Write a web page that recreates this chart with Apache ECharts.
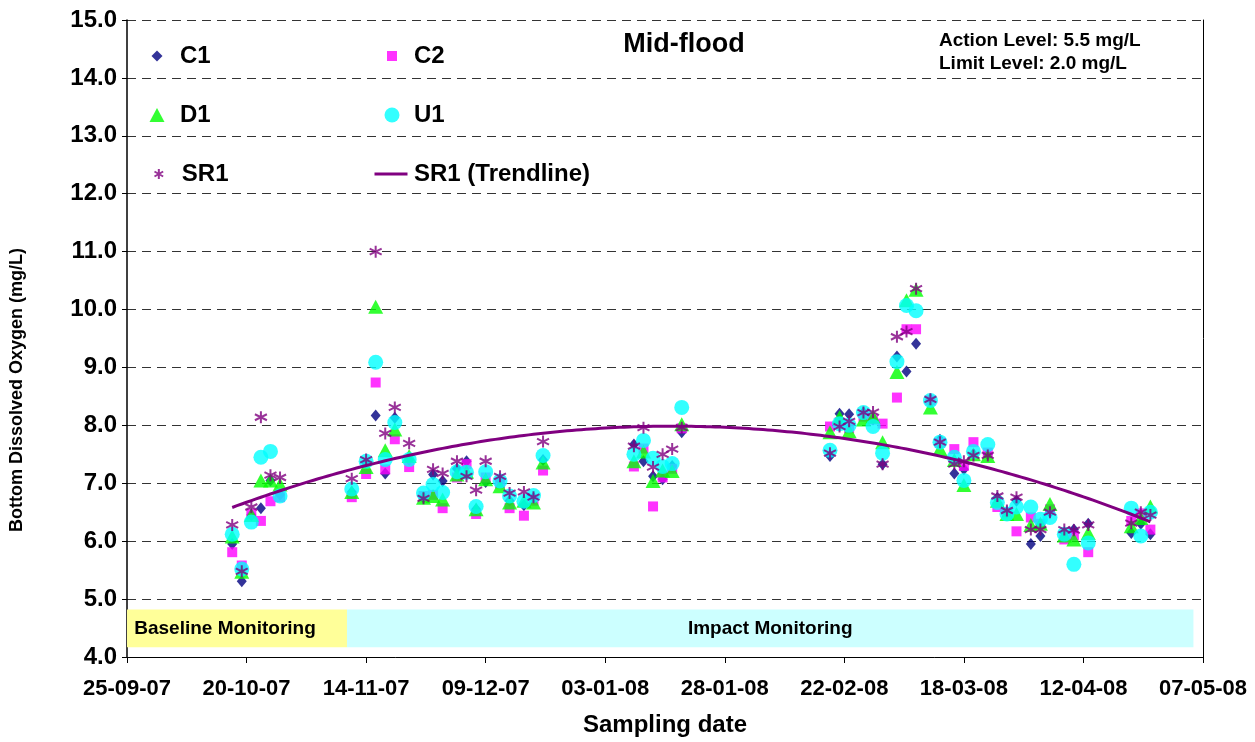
<!DOCTYPE html>
<html>
<head>
<meta charset="utf-8">
<script src="https://cdn.jsdelivr.net/npm/echarts@6/dist/echarts.min.js"></script>
<style>
html,body{margin:0;padding:0;background:#fff;}
#chart{width:1255px;height:742px;}
</style>
</head>
<body>
<div id="chart"></div>
<script>
// ---- data ----
const dates = [
 '2007-10-17','2007-10-19','2007-10-21','2007-10-23','2007-10-25','2007-10-27',
 '2007-11-11','2007-11-14','2007-11-16','2007-11-18','2007-11-20','2007-11-23',
 '2007-11-26','2007-11-28','2007-11-30','2007-12-03','2007-12-05','2007-12-07',
 '2007-12-09','2007-12-12','2007-12-14','2007-12-17','2007-12-19','2007-12-21',
 '2008-01-09','2008-01-11','2008-01-13','2008-01-15','2008-01-17','2008-01-19',
 '2008-02-19','2008-02-21','2008-02-23','2008-02-26','2008-02-28','2008-03-01',
 '2008-03-04','2008-03-06','2008-03-08','2008-03-11','2008-03-13','2008-03-16',
 '2008-03-18','2008-03-20','2008-03-23','2008-03-25','2008-03-27','2008-03-29',
 '2008-04-01','2008-04-03','2008-04-05','2008-04-08','2008-04-10','2008-04-13',
 '2008-04-22','2008-04-24','2008-04-26'
];
const C1 = [5.95,5.31,6.45,6.57,7.05,6.80, 6.85,7.35,8.17,7.17,8.13,7.40, 6.75,7.15,7.04,7.25,7.38,6.55,
 7.02,7.05,6.70,6.62,6.75,7.40, 7.67,7.38,7.12,7.07,7.30,7.88, 7.47,8.20,8.19,8.22,8.10,7.33,
 9.19,8.93,9.41,8.45,7.75,7.17, 7.24,7.50,7.50,6.75,6.50,6.70, 5.95,6.09,6.50,6.15,6.20,6.30, 6.14,6.30,6.12];
const C2 = [5.81,5.58,6.47,6.35,6.69,6.76, 6.76,7.16,8.74,7.24,7.76,7.28, 6.78,6.80,6.57,7.10,7.33,6.47,
 7.10,7.00,6.57,6.44,6.70,7.22, 7.29,7.60,6.60,7.10,7.25,7.95, 7.98,8.05,7.95,8.15,8.10,8.03,
 8.48,9.66,9.66,8.43,7.70,7.59, 7.30,7.71,7.53,6.59,6.50,6.17, 6.41,6.30,6.55,6.03,6.10,5.81, 6.35,6.48,6.20];
const D1 = [6.08,5.47,6.45,7.05,7.05,6.98, 6.85,7.28,10.05,7.57,7.93,7.47, 6.75,6.78,6.72,7.15,7.20,6.55,
 7.07,6.95,6.67,6.70,6.67,7.36, 7.38,7.55,7.04,7.22,7.21,8.02, 7.88,8.14,7.90,8.10,8.15,7.71,
 8.92,10.16,10.34,8.31,7.59,7.40, 6.97,7.50,7.47,6.70,6.47,6.47, 6.28,6.30,6.64,6.10,6.03,6.14, 6.26,6.40,6.60];
const U1 = [6.12,5.52,6.33,7.45,7.55,6.78, 6.90,7.38,9.09,7.41,8.05,7.41, 6.83,6.98,6.84,7.20,7.19,6.60,
 7.20,7.04,6.78,6.69,6.79,7.48, 7.50,7.74,7.43,7.29,7.34,8.31, 7.57,8.03,8.00,8.22,7.98,7.52,
 9.10,10.07,9.98,8.43,7.71,7.45, 7.05,7.55,7.67,6.67,6.47,6.59, 6.59,6.38,6.41,6.12,5.60,5.97, 6.57,6.09,6.50];
const SR1 = [6.28,5.48,6.59,8.14,7.14,7.10, 7.08,7.41,11.00,7.86,8.31,7.69, 6.74,7.24,7.17,7.38,7.12,6.88,
 7.38,7.12,6.83,6.85,6.76,7.72, 7.64,7.96,7.28,7.50,7.59,7.96, 7.52,7.98,8.07,8.22,8.23,7.33,
 9.53,9.62,10.36,8.45,7.71,7.33, 7.38,7.48,7.48,6.78,6.53,6.76, 6.20,6.20,6.50,6.20,6.19,6.28, 6.31,6.50,6.45];
const phaseNames = ['Baseline Monitoring','Impact Monitoring'];
const phaseStart = ['2007-09-25','2007-11-10'];
const phaseEnd   = ['2007-11-10','2008-05-05'];
const xStart = '2007-09-25', xEnd = '2008-05-07', xStepDays = 25;
const yMin = 4, yMax = 15, yStep = 1;
const notes = ['Action Level: 5.5 mg/L','Limit Level: 2.0 mg/L'];

// ---- helpers ----
const DAY = 86400000;
const base = Date.parse(xStart + 'T00:00:00Z');
const dayOf = s => (Date.parse(s + 'T00:00:00Z') - base) / DAY;
const xs = dates.map(dayOf);
const pairs = arr => xs.map((x, i) => [x, arr[i]]);
function fmtDay(v){
  const d = new Date(base + Math.round(v) * DAY);
  const p = n => String(n).padStart(2,'0');
  return p(d.getUTCDate()) + '-' + p(d.getUTCMonth()+1) + '-' + p(d.getUTCFullYear() % 100);
}
// quadratic least-squares trendline of SR1 (as in the original chart)
function quadFit(x, y){
  let S = [0,0,0,0,0], T = [0,0,0];
  for (let i=0;i<x.length;i++){
    let p = 1;
    for (let k=0;k<5;k++){ S[k]+=p; if(k<3) T[k]+=p*y[i]; p*=x[i]; }
  }
  const M = [[S[0],S[1],S[2],T[0]],[S[1],S[2],S[3],T[1]],[S[2],S[3],S[4],T[2]]];
  for (let c=0;c<3;c++){
    for (let r=c+1;r<3;r++){
      const f = M[r][c]/M[c][c];
      for (let k=c;k<4;k++) M[r][k]-=f*M[c][k];
    }
  }
  const a=[0,0,0];
  for (let r=2;r>=0;r--){
    let s=M[r][3];
    for (let k=r+1;k<3;k++) s-=M[r][k]*a[k];
    a[r]=s/M[r][r];
  }
  return a;
}
const co = quadFit(xs, SR1);
const trend = [];
for (let d = xs[0]; d <= xs[xs.length-1]; d += 1) trend.push([d, co[0]+co[1]*d+co[2]*d*d]);

const FONT = '"Liberation Sans", Arial, sans-serif';
const starPath = 'path://M5,0L5,10M0.67,2.5L9.33,7.5M0.67,7.5L9.33,2.5';

const chart = echarts.init(document.getElementById('chart'), null, {renderer:'canvas'});
// one legend block per entry: icon centre x, text start x, row centre y
function leg(name, iconCx, textX, cy, w, h, icon){
  const left = iconCx - w/2;
  const pad = textX - (left + w + 5);
  const d = icon ? {name:name, icon:icon} : name;
  return {show:true, data:[d], left:left, top:cy - 13, orient:'horizontal', padding:0,
    itemWidth:w, itemHeight:h, selectedMode:false, symbolKeepAspect:true,
    textStyle:{fontFamily:FONT, fontWeight:'bold', fontSize:24, color:'#000', lineHeight:26,
      padding:[0,0,0,pad]}};
}
const option = {
  animation:false,
  backgroundColor:'#fff',
  textStyle:{fontFamily:FONT},
  title:[
    {text:'Mid-flood', left:684, top:31, textAlign:'center', padding:0,
     textStyle:{fontFamily:FONT, fontWeight:'bold', fontSize:27, color:'#000'}},
    {text:notes.join('\n'), left:939, top:29, padding:0,
     textStyle:{fontFamily:FONT, fontWeight:'bold', fontSize:19, color:'#000', lineHeight:23}}
  ],
  legend:[
    leg('C1',157,180,56,11,11), leg('C2',392,414,56,10,10),
    leg('D1',157,180,115,15,14), leg('U1',392,414,115,15,15),
    leg('SR1',157,180,174,10,10), leg('SR1 (Trendline)',391,414,174,33,3,'rect')
  ],
  graphic:[{
    type:'text', x:17, y:390, rotation:Math.PI/2,
    style:{text:'Bottom Dissolved Oxygen (mg/L)', font:'bold 18px ' + FONT, fill:'#000',
      textAlign:'center', textVerticalAlign:'middle'}
  }],
  grid:{left:127, right:52, top:20, bottom:84, containLabel:false},
  xAxis:{
    type:'value', min:0, max:dayOf(xEnd), interval:xStepDays,
    name:'Sampling date', nameLocation:'middle', nameGap:56,
    nameTextStyle:{fontFamily:FONT, fontWeight:'bold', fontSize:24, color:'#000'},
    axisLine:{show:true, onZero:false, lineStyle:{color:'#000', width:1}},
    axisTick:{show:true, length:6, lineStyle:{color:'#000'}},
    axisLabel:{formatter:fmtDay, fontFamily:FONT, fontWeight:'bold', fontSize:22, color:'#000', margin:21},
    splitLine:{show:false}
  },
  yAxis:[{
    type:'value', min:yMin, max:yMax, interval:yStep,
    axisLine:{show:true, lineStyle:{color:'#000', width:1.5}},
    axisTick:{show:true, length:5, lineStyle:{color:'#000'}},
    axisLabel:{formatter:v => v.toFixed(1), fontFamily:FONT, fontWeight:'bold', fontSize:24, color:'#000', margin:10},
    splitLine:{show:true, lineStyle:{color:'#333', width:1, type:[9,6]}}
  },{
    type:'value', min:yMin, max:yMax, interval:yStep, position:'right',
    axisLine:{show:true, lineStyle:{color:'#000', width:1}},
    axisTick:{show:false}, axisLabel:{show:false}, splitLine:{show:false}
  }],
  series:[
    {name:'phases', type:'line', data:[], silent:true, z:1,
     markArea:{silent:true,
       data: phaseNames.map((n,i)=>[
         {name:n, xAxis:dayOf(phaseStart[i]), yAxis:4.17,
          itemStyle:{color: i===0 ? '#FFFF99' : '#CCFFFF'},
          label:{offset: i===0 ? [-12,0] : [0,0]}},
         {xAxis:dayOf(phaseEnd[i]), yAxis:4.82}]),
       label:{show:true, position:'inside', fontFamily:FONT, fontWeight:'bold', fontSize:19, color:'#000'}
     }},
    {name:'C1', type:'scatter', data:pairs(C1), symbol:'diamond', symbolSize:[10,12],
     itemStyle:{color:'#000080'}, z:3},
    {name:'C2', type:'scatter', data:pairs(C2), symbol:'rect', symbolSize:10,
     itemStyle:{color:'#FF00FF'}, z:4},
    {name:'D1', type:'scatter', data:pairs(D1), symbol:'triangle', symbolSize:[15,14],
     itemStyle:{color:'#00FF00'}, z:5},
    {name:'U1', type:'scatter', data:pairs(U1), symbol:'circle', symbolSize:15,
     itemStyle:{color:'#00FFFF'}, z:6},
    {name:'SR1', type:'scatter', data:pairs(SR1), symbol:starPath, symbolSize:12,
     itemStyle:{color:'none', borderColor:'#800080', borderWidth:2}, z:7},
    {name:'SR1 (Trendline)', type:'line', data:trend, symbol:'none', smooth:false,
     lineStyle:{color:'#800080', width:3}, itemStyle:{color:'#800080'}, z:8}
  ]
};
chart.setOption(option);
</script>
</body>
</html>
